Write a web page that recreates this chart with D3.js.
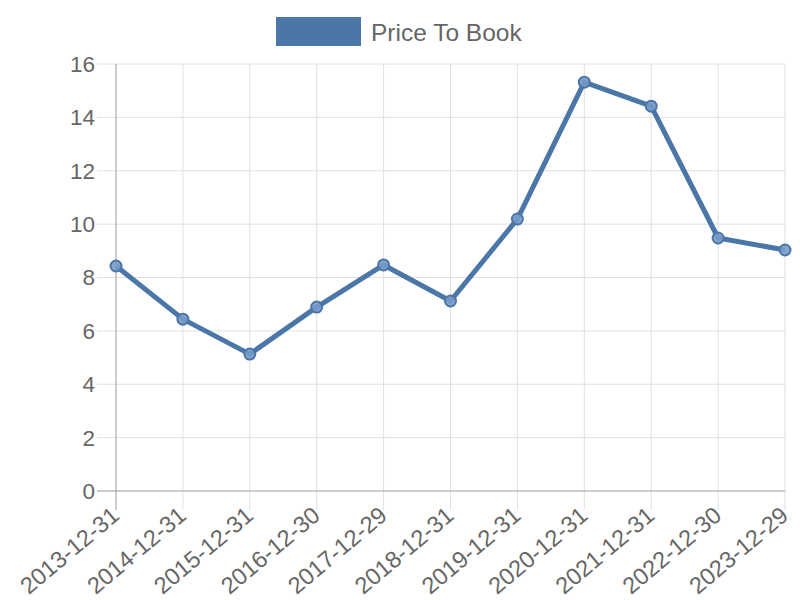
<!DOCTYPE html>
<html><head><meta charset="utf-8">
<script src="https://cdn.jsdelivr.net/npm/d3@7"></script>
<style>body{margin:0;background:#fff;font-family:"Liberation Sans",Arial,sans-serif}</style>
</head><body><svg id="c" width="800" height="600"></svg>
<script>
const categories = ["2013-12-31","2014-12-31","2015-12-31","2016-12-30","2017-12-29","2018-12-31","2019-12-31","2020-12-31","2021-12-31","2022-12-30","2023-12-29"];
const values = [8.43, 6.44, 5.13, 6.89, 8.47, 7.12, 10.19, 15.32, 14.42, 9.48, 9.03];
const yTicks = [0,2,4,6,8,10,12,14,16];
const seriesName = "Price To Book";

const svg = d3.select("#c");
const L=116, R=785, T=64, B=491;
const x = d3.scalePoint().domain(categories).range([L,R]);
const y = d3.scaleLinear().domain([0,16]).range([B,T]);
const col = "#4a76a8";

// grid
svg.append("g").selectAll("line").data(yTicks).join("line")
  .attr("x1",L-19).attr("x2",R).attr("y1",d=>y(d)).attr("y2",d=>y(d))
  .attr("stroke","#e0e0e0").attr("stroke-width",1);
svg.append("g").selectAll("line").data(categories).join("line")
  .attr("x1",d=>x(d)).attr("x2",d=>x(d)).attr("y1",T).attr("y2",B+19)
  .attr("stroke","#e0e0e0").attr("stroke-width",1);
// axis lines
svg.append("line").attr("x1",L).attr("x2",L).attr("y1",T).attr("y2",B+19).attr("stroke","#aaa");
svg.append("line").attr("x1",L-19).attr("x2",R).attr("y1",B).attr("y2",B).attr("stroke","#aaa");

// y labels
svg.append("g").selectAll("text").data(yTicks).join("text")
  .attr("x",L-21).attr("y",d=>y(d)).attr("dy","0.35em").attr("text-anchor","end")
  .attr("fill","#666").attr("font-size",22.5).text(d=>d);
// x labels
svg.append("g").selectAll("text").data(categories).join("text")
  .attr("transform",d=>`translate(${x(d)-6},${B+14}) rotate(-40)`)
  .attr("text-anchor","end").attr("dy","0.72em")
  .attr("fill","#666").attr("font-size",23.5).text(d=>d);

// line
svg.append("path").datum(values)
  .attr("d",d3.line().x((d,i)=>x(categories[i])).y(d=>y(d)))
  .attr("fill","none").attr("stroke",col).attr("stroke-width",5).attr("stroke-linejoin","round");
svg.append("g").selectAll("circle").data(values).join("circle")
  .attr("cx",(d,i)=>x(categories[i])).attr("cy",d=>y(d)).attr("r",5.5)
  .attr("fill","rgba(120,155,200,0.9)").attr("stroke",col).attr("stroke-width",2);

// legend
svg.append("rect").attr("x",276).attr("y",17).attr("width",85).attr("height",29).attr("fill",col);
svg.append("text").attr("x",371).attr("y",32).attr("dy","0.35em").attr("fill","#666")
  .attr("font-size",24.5).text(seriesName);
</script></body></html>
